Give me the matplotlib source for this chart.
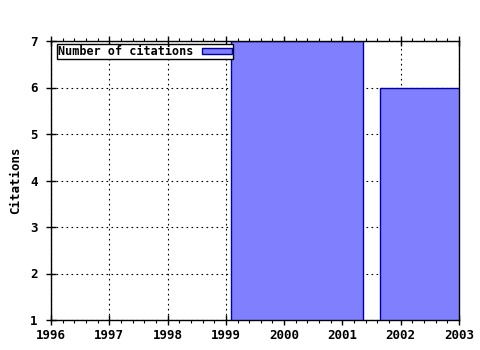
import matplotlib
matplotlib.use("Agg")
import matplotlib.pyplot as plt
from matplotlib.patches import Patch
from matplotlib.ticker import MultipleLocator

# Bar centres (year) and citation counts
YEARS = [2000.22, 2002.77]
CITATIONS = [7, 6]
BAR_WIDTH = 2.26

X_TICKS = [1996, 1997, 1998, 1999, 2000, 2001, 2002, 2003]
Y_TICKS = [1, 2, 3, 4, 5, 6, 7]

FONT = dict(family="DejaVu Sans Mono", weight="bold", size=9.0)
LEG_FONT = dict(family="DejaVu Sans Mono", weight="bold", size=8.5)
FACE = "#8080ff"
EDGE = "#0000a0"

fig = plt.figure(figsize=(4.8, 3.5), dpi=100)
ax = fig.add_axes([51 / 480, 1 - 320 / 350, 408 / 480, 279 / 350])

ax.bar(YEARS, CITATIONS, width=BAR_WIDTH, bottom=0, color=FACE,
       edgecolor=EDGE, linewidth=1.0, zorder=3)

ax.set_xlim(1996, 2003)
ax.set_ylim(1, 7)
ax.set_xticks(X_TICKS)
ax.set_yticks(Y_TICKS)
ax.xaxis.set_minor_locator(MultipleLocator(0.2))
ax.set_xticklabels([str(t) for t in X_TICKS], **FONT)
ax.set_yticklabels([str(t) for t in Y_TICKS], **FONT)

ax.tick_params(axis="both", which="major", direction="inout", length=7,
               width=1, color="black", pad=3)
ax.tick_params(axis="y", which="major", pad=6)
ax.tick_params(axis="x", which="minor", direction="out", length=2.5,
               width=0.8, top=True)
ax.tick_params(axis="x", which="major", top=True)

ax.grid(True, which="major", ls=(0, (1.5, 3)), lw=0.8, color="black",
        zorder=0)
ax.set_axisbelow(True)
for sp in ax.spines.values():
    sp.set_linewidth(1.0)
    sp.set_color("black")
    sp.set_zorder(4)

ax.set_ylabel("Citations", labelpad=6, **FONT)

handle = Patch(facecolor=FACE, edgecolor=EDGE, linewidth=1.0)
leg = ax.legend([handle], ["Number of citations"], loc="upper left",
                bbox_to_anchor=(6 / 408, 1 - 3 / 279), markerfirst=False,
                frameon=True, fancybox=False, framealpha=1, edgecolor="black",
                borderpad=0.1, borderaxespad=0, handlelength=2.6,
                handleheight=0.5, handletextpad=0.68, prop=LEG_FONT)
leg.get_frame().set_linewidth(1.0)
leg.set_zorder(5)

fig.savefig("out.png", dpi=100)
